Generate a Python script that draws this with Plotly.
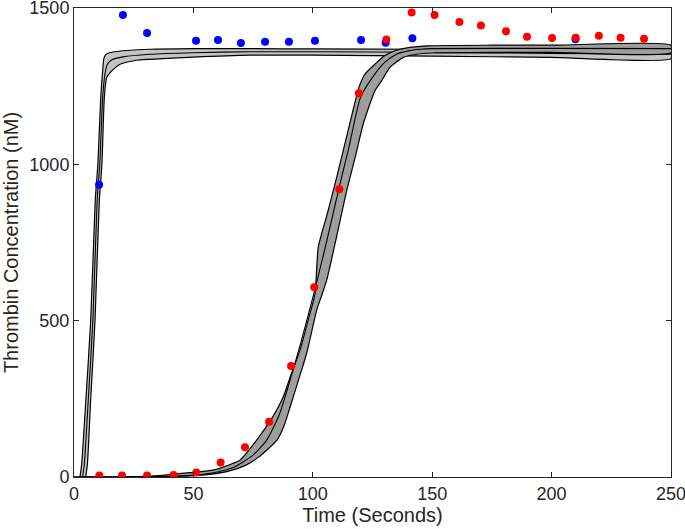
import plotly.graph_objects as go

# Experimental data (blue and red series)
blue_t = [10.5, 20.5, 30.6, 51.1, 60.3, 69.9, 80.0, 90.0, 100.9, 120.2, 130.5, 141.7, 210.0]
blue_v = [935, 1478, 1420, 1395, 1398, 1388, 1392, 1392, 1395, 1398, 1389, 1403, 1400]

red_t = [10.6, 20.1, 30.6, 41.7, 51.2, 61.4, 71.6, 81.7, 90.9, 100.6, 111.1, 119.3, 130.8,
         141.4, 151.0, 161.4, 170.4, 180.9, 189.7, 200.2, 210.1, 219.8, 228.9, 238.7]
red_v = [5, 5, 5, 6, 14, 46, 95, 177, 355, 607, 920, 1227, 1399,
         1486, 1478, 1455, 1444, 1426, 1408, 1404, 1405, 1411, 1405, 1402]

# Model band 1 (fast)
b1_up_t = [2.5, 3.2, 5.0, 7.0, 8.9, 10.0, 11.2, 12.0, 12.5, 13.2, 14.5, 17, 22, 31.8, 50, 73.7, 100, 150, 200, 250]
b1_up_v = [0, 40, 250, 501, 884, 1002, 1214, 1300, 1338, 1350, 1356, 1360, 1364, 1368, 1370, 1370, 1369, 1368, 1367, 1366]
b1_mid_t = [3.6, 4.3, 6.0, 7.9, 9.7, 10.8, 12.0, 13.0, 14.0, 16, 20, 31.8, 50, 73.7, 100, 150, 200, 250]
b1_mid_v = [0, 40, 250, 501, 884, 1002, 1214, 1290, 1320, 1335, 1343, 1352, 1357, 1360, 1360, 1358, 1355, 1352]
b1_lo_t = [4.9, 5.6, 7.0, 8.8, 10.6, 11.7, 12.7, 13.7, 15.8, 19.3, 26.2, 31.8, 50, 73.7, 100, 150, 200, 250]
b1_lo_v = [0, 40, 250, 501, 884, 1002, 1214, 1278, 1299, 1320, 1333, 1336, 1343, 1349, 1349, 1346, 1342, 1338]

# Model band 2 (slow)
b2_up_t = [0, 30, 40, 50, 58.3, 66.7, 69.5, 76.5, 83, 87.6, 91, 94.6, 98, 100.9, 102.3, 106, 110, 115,
           119.5, 122, 126, 130, 135, 140.7, 147.7, 175, 200, 250]
b2_up_v = [0, 2, 8, 15, 22, 44, 54, 118, 190, 256, 330, 405, 500, 586, 735, 840, 958, 1115,
           1250, 1290, 1320, 1347, 1365, 1374, 1379, 1381, 1381, 1381]
b2_mid_t = [0, 35, 50, 60, 66.7, 75, 80.7, 86, 90.5, 95, 100.9, 106, 111, 115, 120, 124.7, 130,
            135, 140, 145, 150, 200, 250]
b2_mid_v = [0, 1, 6, 16, 30, 70, 118, 200, 310, 430, 600, 760, 925, 1050, 1215, 1275, 1325,
            1352, 1363, 1368, 1370, 1371, 1370]
b2_lo_t = [0, 35, 45, 55, 64, 72, 77, 81, 85, 88, 90.5, 94, 97.4, 101.6, 103, 105.8, 110, 114.2,
           118, 121.1, 126, 128.8, 132.3, 137.9, 143.5, 150, 200, 250]
b2_lo_v = [0, 1, 3, 7, 17, 38, 62, 88, 118, 165, 224, 310, 395, 533, 565, 629, 770, 916,
           1030, 1129, 1235, 1267, 1310, 1342, 1352, 1356, 1358, 1357]

x_ticks = [0, 50, 100, 150, 200, 250]
y_ticks = [0, 500, 1000, 1500]

fig = go.Figure()


def add_band(up_t, up_v, mid_t, mid_v, lo_t, lo_v, fill):
    fig.add_trace(go.Scatter(
        x=list(up_t) + list(lo_t)[::-1], y=list(up_v) + list(lo_v)[::-1],
        fill="toself", fillcolor=fill, mode="lines",
        line=dict(color="black", width=1.2, shape="spline", smoothing=0.6),
        hoverinfo="skip", showlegend=False))
    fig.add_trace(go.Scatter(x=mid_t, y=mid_v, mode="lines",
                             line=dict(color="black", width=1.1, shape="spline", smoothing=0.6),
                             showlegend=False))


add_band(b1_up_t, b1_up_v, b1_mid_t, b1_mid_v, b1_lo_t, b1_lo_v, "#c4c4c4")
add_band(b2_up_t, b2_up_v, b2_mid_t, b2_mid_v, b2_lo_t, b2_lo_v, "#9e9e9e")

fig.add_trace(go.Scatter(x=blue_t, y=blue_v, mode="markers",
                         marker=dict(color="#0000ff", size=8), showlegend=False))
fig.add_trace(go.Scatter(x=red_t, y=red_v, mode="markers",
                         marker=dict(color="#ff0000", size=8), showlegend=False))

axis_common = dict(showline=True, linecolor="#262626", linewidth=1, mirror="ticks",
                   ticks="inside", ticklen=5, tickcolor="#262626", showgrid=False,
                   zeroline=False, tickfont=dict(size=18, color="#262626"),
                   automargin=False, ticklabeloverflow="allow")

fig.update_layout(
    width=685, height=529,
    margin=dict(l=74, r=14, t=8, b=52),
    paper_bgcolor="white", plot_bgcolor="white",
    font=dict(family="Liberation Sans, Arial, sans-serif", color="#262626"),
    xaxis=dict(range=[0, 250], tickvals=x_ticks,
               title=dict(text="Time (Seconds)", font=dict(size=20), standoff=2),
               **axis_common),
    yaxis=dict(range=[0, 1500], tickvals=y_ticks,
               title=dict(text="Thrombin Concentration (nM)", font=dict(size=20), standoff=6),
               **axis_common),
)

fig.write_html("out.html", config={"displayModeBar": False},
               post_script="document.body.style.margin='0';document.body.style.overflow='hidden';")
